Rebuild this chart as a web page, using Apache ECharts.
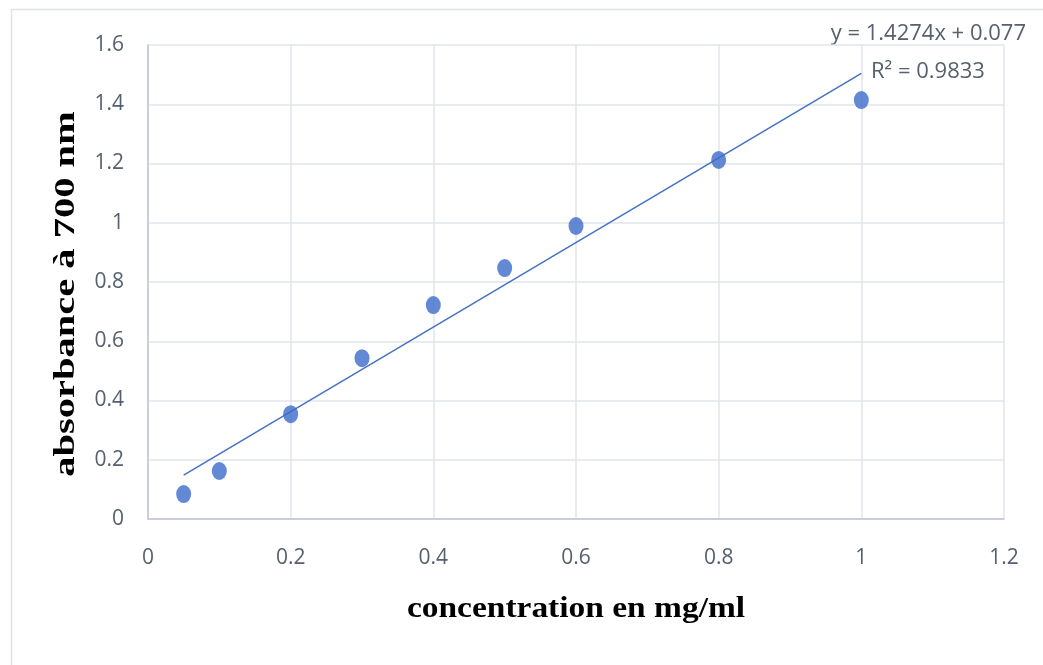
<!DOCTYPE html>
<html>
<head>
<meta charset="utf-8">
<script src="https://cdn.jsdelivr.net/npm/echarts@6/dist/echarts.min.js"></script>
<style>html,body{margin:0;padding:0;background:#fff}#c{width:1043px;height:665px}</style>
</head>
<body>
<div id="c"></div>
<script>
const concentrations = [0.05, 0.1, 0.2, 0.3, 0.4, 0.5, 0.6, 0.8, 1.0];
const absorbances = [0.084, 0.162, 0.354, 0.543, 0.722, 0.847, 0.989, 1.212, 1.414];
const slope = 1.4274;
const intercept = 0.077;
const equationText = 'y = 1.4274x + 0.077';
const r2Text = 'R² = 0.9833';
const xTitle = 'concentration en mg/ml';
const yTitle = 'absorbance à 700 nm';

const pts = concentrations.map((x, i) => [x, absorbances[i]]);
const xMin = Math.min(...concentrations), xMax = Math.max(...concentrations);
const trend = [[xMin, slope * xMin + intercept], [xMax, slope * xMax + intercept]];

const chart = echarts.init(document.getElementById('c'));
const labelFont = { color: '#56606e', fontSize: 21, fontFamily: 'Open Sans' };
chart.setOption({
  animation: false,
  grid: { left: 148, right: 39, top: 45, bottom: 146 },
  xAxis: {
    type: 'value', min: 0, max: 1.2, interval: 0.2,
    axisLine: { show: true, lineStyle: { color: '#bfc5d4', width: 1.5 } },
    axisTick: { show: false },
    splitLine: { show: true, lineStyle: { color: '#e1e4ea', width: 1.5 } },
    axisLabel: Object.assign({ margin: 29, formatter: v => String(+v.toFixed(1)) }, labelFont)
  },
  yAxis: {
    type: 'value', min: 0, max: 1.6, interval: 0.2,
    axisLine: { show: true, lineStyle: { color: '#bfc5d4', width: 1.5 } },
    axisTick: { show: false },
    splitLine: { show: true, lineStyle: { color: '#e1e4ea', width: 1.5 } },
    axisLabel: Object.assign({ margin: 24, formatter: v => String(+v.toFixed(1)) }, labelFont)
  },
  series: [
    {
      type: 'line', data: trend, symbol: 'none', silent: true,
      lineStyle: { color: '#4472c4', width: 1.5 }, z: 2
    },
    {
      type: 'scatter', data: pts,
      symbol: 'circle', symbolSize: [15, 18],
      itemStyle: { color: '#3d6cc9' }, z: 3
    }
  ],
  graphic: [
    { type: 'rect', shape: { x: 11.5, y: 9.5, width: 1100, height: 700 },
      style: { fill: 'none', stroke: '#dfe2e8', lineWidth: 1.5 }, silent: true, z: -10 },
    { type: 'text', x: 576, y: 609, scaleX: 1.115,
      style: { text: xTitle, font: 'bold 30px "Liberation Serif"', fill: '#000', textAlign: 'center', textVerticalAlign: 'middle' } },
    { type: 'text', x: 66, y: 294, rotation: Math.PI / 2, scaleX: 1.35,
      style: { text: yTitle, font: 'bold 30px "Liberation Serif"', fill: '#000', textAlign: 'center', textVerticalAlign: 'middle' } },
    { type: 'text', x: 1026, y: 34,
      style: { text: equationText, font: '22px "Open Sans"', fill: '#56606e', textAlign: 'right', textVerticalAlign: 'middle' } },
    { type: 'text', x: 871, y: 72,
      style: { text: r2Text, font: '22px "Open Sans"', fill: '#56606e', textAlign: 'left', textVerticalAlign: 'middle' } }
  ]
});
</script>
</body>
</html>
